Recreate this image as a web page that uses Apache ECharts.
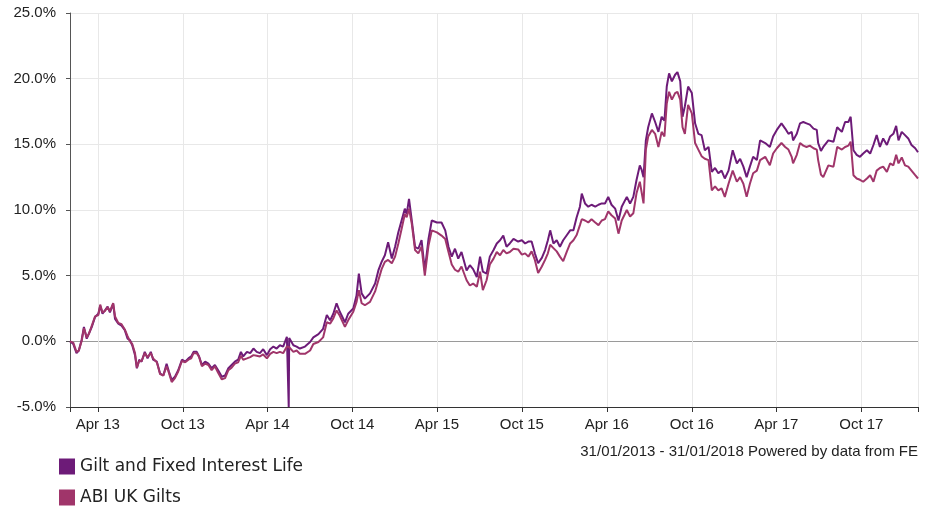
<!DOCTYPE html>
<html>

<head>
  <meta charset="utf-8">
  <title>Gilt and Fixed Interest Life vs ABI UK Gilts</title>
  <script src="https://cdn.jsdelivr.net/npm/echarts/dist/echarts.min.js"></script>
</head>

<body style="margin:0;background:#fff">
  <div id="main" style="width:934px;height:506px;"></div>
  <script type="text/javascript">
    // days after 31/01/2013 for each reading
    var startDate = '2013-01-31';
    var dayOffsets = [
      0, 7, 14, 19, 25, 30, 36, 41, 47, 54,
      61, 65, 70, 75, 81, 86, 93, 97, 104, 111,
      118, 124, 129, 134, 140, 144, 149, 154, 161, 167,
      174, 179, 187, 194, 201, 208, 213, 219, 226, 233,
      241, 248, 255, 261, 266, 273, 278, 284, 291, 298,
      305, 312, 319, 327, 334, 341, 348, 355, 362, 368,
      373, 381, 388, 395, 402, 409, 416, 424, 431, 438,
      445, 452, 459, 467, 470, 471, 472, 475, 481, 488,
      495, 506, 517, 524, 535, 545, 553, 560, 567, 574,
      581, 592, 599, 610, 617, 622, 628, 635, 646, 657,
      664, 671, 678, 685, 693, 700, 707, 714, 721, 725,
      730, 736, 743, 750, 757, 764, 772, 779, 790, 800,
      808, 815, 822, 829, 836, 843, 854, 861, 868, 876,
      883, 889, 897, 904, 912, 919, 926, 933, 940, 947,
      955, 965, 973, 980, 987, 994, 1001, 1008, 1016, 1023,
      1029, 1034, 1041, 1048, 1055, 1062, 1070, 1077, 1084, 1091,
      1098, 1102, 1109, 1116, 1123, 1131, 1138, 1145, 1152, 1159,
      1166, 1174, 1181, 1188, 1199, 1206, 1213, 1220, 1227, 1231,
      1235, 1240, 1245, 1253, 1260, 1267, 1274, 1280, 1285, 1290,
      1296, 1303, 1308, 1314, 1319, 1324, 1331, 1339, 1346, 1353,
      1360, 1367, 1375, 1382, 1389, 1396, 1403, 1410, 1418, 1427,
      1436, 1443, 1450, 1457, 1464, 1471, 1479, 1486, 1497, 1507,
      1514, 1522, 1532, 1540, 1547, 1554, 1557, 1565, 1572, 1579,
      1586, 1593, 1601, 1608, 1611, 1617, 1622, 1633, 1644, 1652,
      1662, 1669, 1676, 1681, 1687, 1694, 1701, 1708, 1716, 1723,
      1730, 1737, 1744, 1751, 1759, 1766, 1773, 1779, 1784, 1791,
      1798, 1805, 1812, 1820, 1826
    ];

    // cumulative performance, %
    var giltFixed = [
      0.0, -0.2, -0.9, -0.7, 0.1, 1.1, 0.2, 0.6, 1.1, 1.85,
      2.1, 2.7, 2.1, 2.35, 2.65, 2.2, 2.85, 1.7, 1.35, 1.2,
      0.85, 0.2, 0.1, -0.3, -1.05, -2.05, -1.4, -1.55, -0.8, -1.3,
      -0.8, -1.4, -1.55, -2.45, -2.6, -1.7, -2.3, -2.95, -2.7, -2.2,
      -1.4, -1.55, -1.3, -1.15, -0.8, -0.8, -1.15, -1.8, -1.55, -1.7,
      -2.05, -1.8, -2.2, -2.7, -2.6, -2.05, -1.8, -1.55, -1.4, -0.8,
      -1.15, -0.8, -0.9, -0.55, -0.8, -0.9, -0.6, -1.05, -0.6, -0.4,
      -0.55, -0.3, -0.4, 0.35, 0.3, -5.0, 0.25, 0.2, -0.3, -0.4,
      -0.55, -0.4, -0.05, 0.3, 0.55, 0.95, 2.0, 1.6, 2.1, 2.9,
      2.25, 1.45, 2.1, 2.5, 3.5, 5.15, 3.65, 3.25, 3.65, 4.4,
      5.4, 6.05, 6.55, 7.55, 6.3, 7.2, 8.3, 9.2, 10.1, 9.7,
      10.85, 9.2, 7.2, 7.05, 7.7, 5.4, 7.8, 9.2, 9.05, 9.05,
      8.45, 7.2, 6.45, 7.05, 6.3, 6.8, 5.4, 5.8, 5.5, 4.9,
      6.45, 5.3, 5.15, 6.45, 6.95, 7.45, 7.7, 8.05, 7.2, 7.45,
      7.8, 7.6, 7.7, 7.45, 7.6, 7.6, 6.7, 5.95, 6.35, 6.95,
      7.7, 8.45, 7.45, 7.7, 7.2, 7.7, 8.1, 8.45, 8.45, 9.45,
      10.25, 11.25, 10.5, 10.25, 10.4, 10.25, 10.4, 10.5, 10.5, 11.0,
      10.4, 10.1, 9.2, 10.25, 11.0, 10.5, 11.0, 12.3, 13.4, 13.05,
      12.5, 15.3, 16.3, 17.35, 16.7, 15.95, 17.1, 16.8, 19.4, 20.4,
      19.8, 20.3, 20.5, 19.8, 17.1, 17.9, 19.4, 18.9, 16.6, 15.8,
      15.7, 14.55, 14.8, 12.9, 13.2, 12.8, 13.0, 12.4, 13.0, 14.55,
      13.55, 13.9, 13.3, 12.5, 13.3, 14.05, 13.8, 15.3, 15.1, 14.8,
      15.6, 16.1, 16.6, 16.2, 15.8, 15.95, 15.3, 15.8, 16.6, 16.7,
      16.6, 16.5, 16.2, 16.1, 15.1, 14.5, 14.8, 15.3, 15.2, 16.3,
      15.95, 16.7, 16.7, 17.1, 14.55, 14.2, 14.05, 14.3, 14.55, 14.3,
      14.95, 15.7, 14.8, 15.45, 14.95, 15.6, 15.8, 16.4, 15.3, 15.95,
      15.7, 15.45, 14.95, 14.7, 14.4
    ];

    var abiGilts = [
      0.0, -0.1, -0.8, -0.7, 0.0, 1.0, 0.3, 0.6, 1.2, 1.9,
      2.0, 2.8, 2.2, 2.3, 2.6, 2.3, 2.9, 1.9, 1.4, 1.3,
      0.9, 0.4, 0.0, -0.2, -0.9, -2.0, -1.5, -1.5, -0.9, -1.2,
      -0.9, -1.3, -1.6, -2.5, -2.6, -1.9, -2.4, -3.1, -2.8, -2.3,
      -1.5, -1.6, -1.4, -1.3, -0.9, -0.9, -1.2, -1.9, -1.7, -1.8,
      -2.2, -1.9, -2.4, -2.9, -2.8, -2.2, -2.0, -1.7, -1.6, -1.1,
      -1.4, -1.3, -1.2, -1.05, -1.1, -1.15, -1.0, -1.3, -0.95, -0.8,
      -0.9, -0.8, -0.9, -0.4, -0.45, -0.5, -0.45, -0.4, -0.8, -0.7,
      -0.95, -0.95, -0.7, -0.2, -0.05, 0.3, 1.45, 1.35, 1.75, 2.35,
      1.95, 1.1, 1.6, 2.25, 3.0, 3.9, 2.9, 2.75, 3.0, 3.8,
      4.65, 5.5, 6.05, 6.2, 5.95, 6.45, 7.45, 8.55, 9.7, 9.45,
      10.1, 8.95, 6.95, 6.7, 7.2, 5.0, 7.3, 8.45, 8.3, 8.05,
      7.8, 6.8, 5.85, 5.45, 5.3, 5.7, 4.65, 4.25, 4.4, 4.15,
      5.3, 3.9, 4.65, 5.85, 6.3, 6.8, 6.55, 6.95, 6.7, 6.8,
      7.05, 7.0, 6.6, 6.7, 6.45, 6.85, 6.2, 5.2, 5.7, 6.2,
      6.7, 7.35, 7.1, 6.85, 6.45, 6.1, 6.85, 7.45, 7.7, 8.1,
      8.85, 9.3, 9.2, 9.05, 9.3, 9.05, 8.85, 9.2, 9.3, 9.9,
      9.6, 9.35, 8.2, 9.2, 10.0, 9.5, 9.75, 11.3, 12.15, 12.0,
      10.5, 14.6, 15.6, 16.1, 15.8, 14.8, 15.95, 15.6, 18.1, 19.0,
      18.4, 18.9, 19.0, 18.4, 16.3, 15.8, 18.0, 17.35, 15.1, 14.6,
      14.1, 13.9, 13.8, 11.5, 11.8, 11.5, 11.65, 11.0, 12.0, 13.0,
      12.15, 12.5, 12.0, 11.0, 12.0, 12.8, 13.0, 13.8, 14.05, 13.4,
      14.3, 14.7, 15.1, 14.8, 14.6, 14.05, 13.55, 14.2, 15.1, 14.9,
      14.8, 14.9, 14.7, 14.6, 13.8, 12.7, 12.5, 13.4, 13.3, 14.8,
      14.6, 14.8, 14.9, 15.2, 12.65, 12.4, 12.3, 12.15, 12.4, 12.65,
      12.15, 13.0, 13.2, 13.3, 12.9, 13.55, 13.4, 14.2, 13.55, 14.0,
      13.4, 13.3, 13.0, 12.65, 12.4
    ];

    var seriesNames = ['Gilt and Fixed Interest Life', 'ABI UK Gilts'];
    var tickDates = ['2013-01-31', '2013-04-01', '2013-10-01', '2014-04-01', '2014-10-01',
      '2015-04-01', '2015-10-01', '2016-04-01', '2016-10-01', '2017-04-01', '2017-10-01', '2018-01-31'];
    var labelDates = tickDates.slice(1, tickDates.length - 1);
    var months = ['Jan', 'Feb', 'Mar', 'Apr', 'May', 'Jun', 'Jul', 'Aug', 'Sep', 'Oct', 'Nov', 'Dec'];
    var subText = '31/01/2013 - 31/01/2018 Powered by data from FE';

    var DAY = 24 * 3600 * 1000;
    var t0 = Date.parse(startDate);
    function toTime(s) { return Date.parse(s); }
    function pairs(vals) {
      return vals.map(function (v, i) { return [t0 + dayOffsets[i] * DAY, v]; });
    }

    var myChart = echarts.init(document.getElementById('main'), null, { renderer: 'canvas' });
    var axisFont = 'Arial, "Liberation Sans", sans-serif';

    var option = {
      animation: false,
      backgroundColor: '#fff',
      title: {
        text: subText,
        right: 16,
        top: 444,
        padding: 0,
        textStyle: { fontFamily: axisFont, fontSize: 15, fontWeight: 'normal', color: '#222' }
      },
      legend: {
        orient: 'vertical',
        left: 59,
        top: 458,
        padding: 0,
        itemWidth: 16,
        itemHeight: 16,
        itemGap: 14,
        icon: 'rect',
        data: seriesNames,
        textStyle: { fontFamily: '"DejaVu Sans", sans-serif', fontSize: 17, color: '#222' }
      },
      grid: { left: 70, right: 16, top: 13, bottom: 99, containLabel: false, outerBoundsMode: 'none' },
      // timestamps on a plain value axis so that ticks can sit on 1 Apr / 1 Oct
      xAxis: {
        type: 'value',
        min: toTime(tickDates[0]),
        max: toTime(tickDates[tickDates.length - 1]),
        axisLine: { show: true, onZero: false, lineStyle: { color: '#333', width: 1 } },
        axisTick: {
          show: true, length: 5, lineStyle: { color: '#333' },
          customValues: tickDates.map(toTime)
        },
        axisLabel: {
          show: true,
          customValues: labelDates.map(toTime),
          fontFamily: axisFont, fontSize: 15, color: '#222', margin: 10,
          formatter: function (val) {
            var d = new Date(val);
            return months[d.getUTCMonth()] + ' ' + String(d.getUTCFullYear()).slice(2);
          }
        },
        splitLine: { show: true, lineStyle: { color: '#e8e8e8', width: 1 } }
      },
      yAxis: {
        type: 'value',
        min: -5,
        max: 25,
        interval: 5,
        axisLine: { show: true, lineStyle: { color: '#555', width: 1 } },
        axisTick: { show: true, length: 4, lineStyle: { color: '#555' } },
        axisLabel: {
          fontFamily: axisFont, fontSize: 15, color: '#222', margin: 14,
          formatter: function (v) { return v.toFixed(1) + '%'; }
        },
        splitLine: {
          show: true,
          lineStyle: { color: ['#e8e8e8', '#9a9a9a', '#e8e8e8', '#e8e8e8', '#e8e8e8', '#e8e8e8', '#e8e8e8'], width: 1 }
        }
      },
      series: [{
        name: seriesNames[0],
        type: 'line',
        data: pairs(giltFixed),
        showSymbol: false,
        symbol: 'none',
        color: '#6d1b78',
        lineStyle: { width: 2, color: '#6d1b78' }
      }, {
        name: seriesNames[1],
        type: 'line',
        data: pairs(abiGilts),
        showSymbol: false,
        symbol: 'none',
        color: '#a0356a',
        lineStyle: { width: 2, color: '#a0356a' }
      }]
    };

    myChart.setOption(option);
  </script>
</body>

</html>
